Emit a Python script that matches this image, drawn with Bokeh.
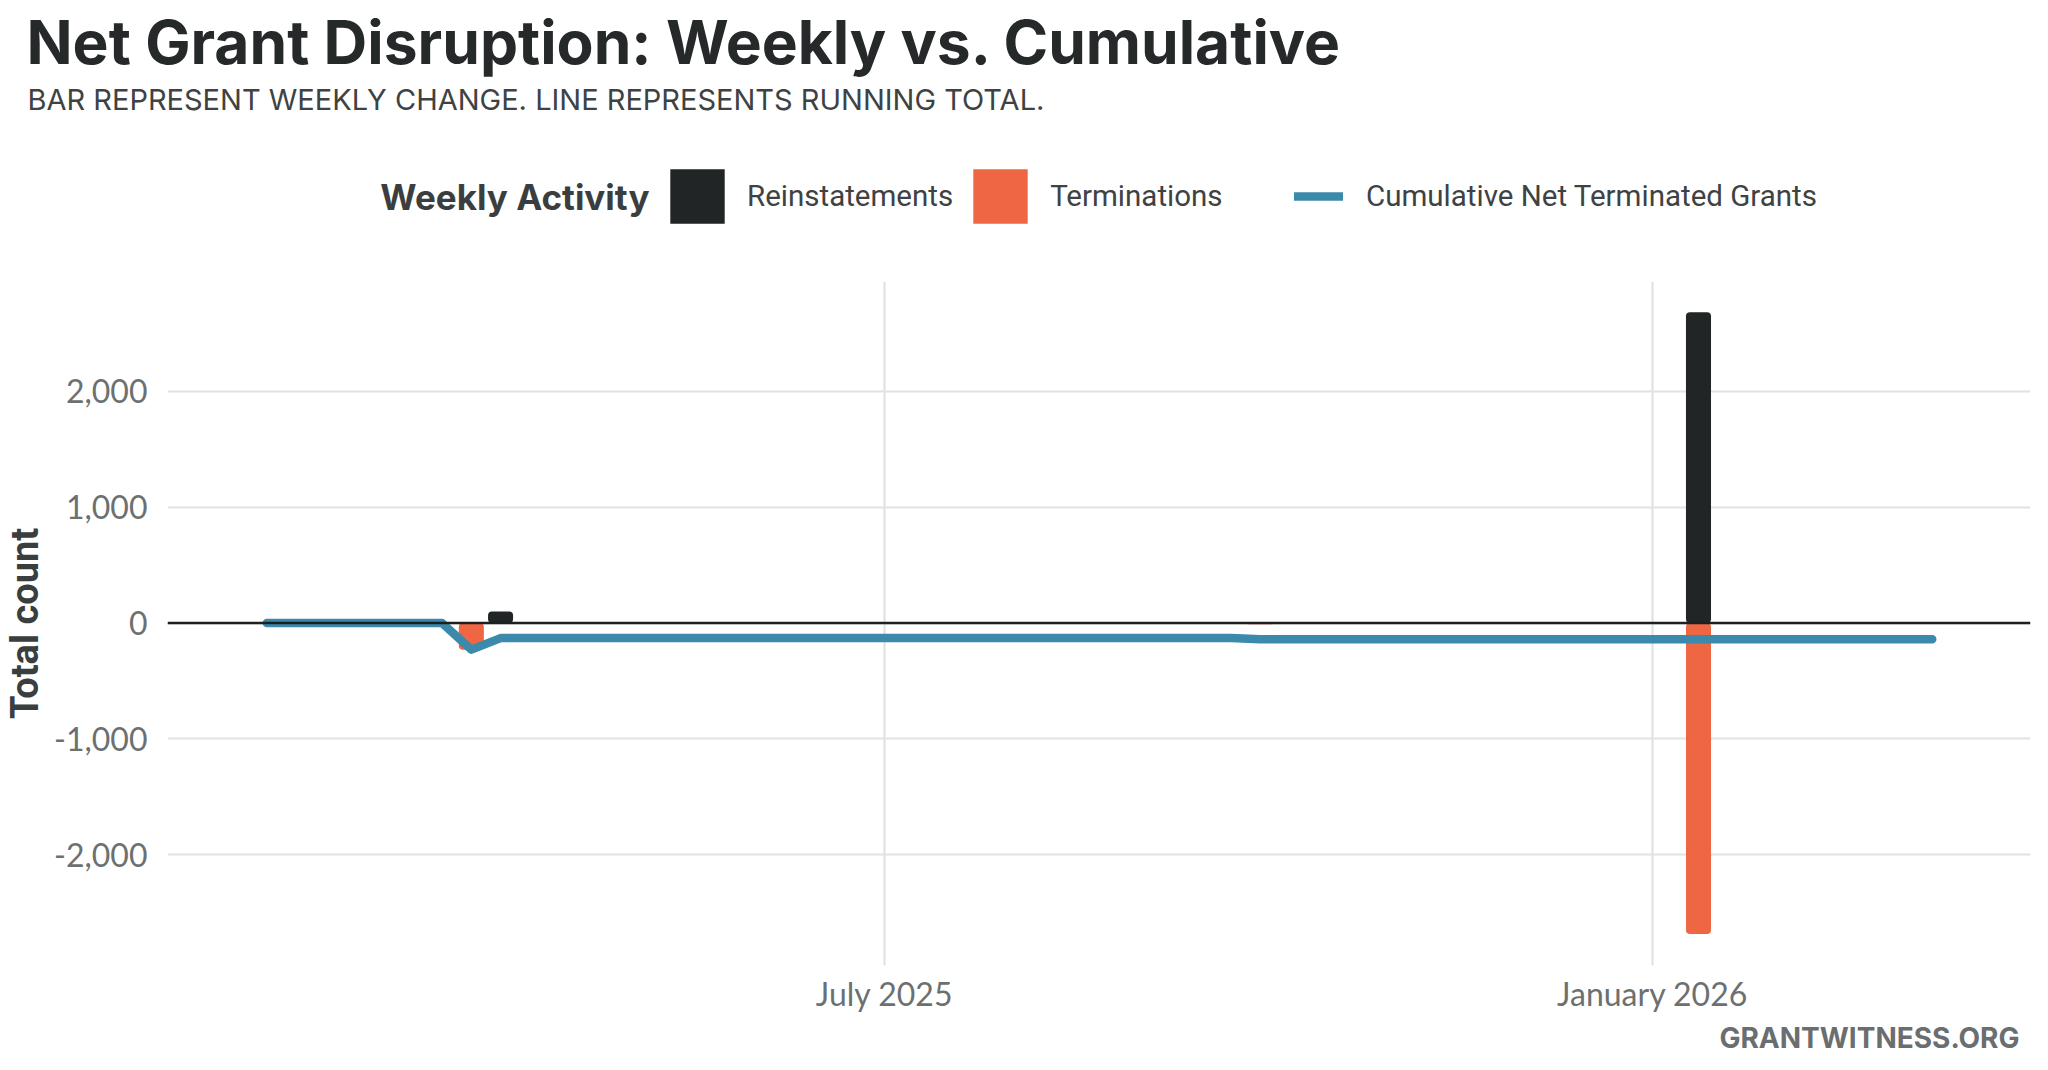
import pandas as pd
from bokeh.plotting import figure
from bokeh.layouts import column
from bokeh.models import (Range1d, FixedTicker, DatetimeTickFormatter, NumeralTickFormatter,
                          Span, Title, Legend, LegendItem, Label)
from bokeh.embed import file_html
from bokeh.resources import INLINE

# ---------------- data ----------------
line_weeks = [
    "2025-02-03", "2025-02-10", "2025-02-17", "2025-02-24", "2025-03-03", "2025-03-10",
    "2025-03-17", "2025-03-24", "2025-03-31", "2025-04-07", "2025-04-14", "2025-04-21",
    "2025-04-28", "2025-05-05", "2025-05-12", "2025-05-19", "2025-05-26", "2025-06-02",
    "2025-06-09", "2025-06-16", "2025-06-23", "2025-06-30", "2025-07-07", "2025-07-14",
    "2025-07-21", "2025-07-28", "2025-08-04", "2025-08-11", "2025-08-18", "2025-08-25",
    "2025-09-01", "2025-09-08", "2025-09-15", "2025-09-22", "2025-09-29", "2025-10-06",
    "2025-10-13", "2025-10-20", "2025-10-27", "2025-11-03", "2025-11-10", "2025-11-17",
    "2025-11-24", "2025-12-01", "2025-12-08", "2025-12-15", "2025-12-22", "2025-12-29",
    "2026-01-05", "2026-01-12", "2026-01-19", "2026-01-26", "2026-02-02", "2026-02-09",
    "2026-02-16", "2026-02-23", "2026-03-02", "2026-03-09",
]
cumulative_net = [
    0, 0, 0, 0, 0, 0,
    0, -230, -130, -130, -130, -130,
    -130, -130, -130, -130, -130, -130,
    -130, -130, -130, -130, -130, -130,
    -130, -130, -130, -130, -130, -130,
    -130, -130, -130, -130, -140, -140,
    -140, -140, -140, -140, -140, -140,
    -140, -140, -140, -140, -140, -140,
    -140, -140, -140, -140, -140, -140,
    -140, -140, -140, -140,
]

bar_weeks = ["2025-03-24", "2025-03-31", "2025-09-29", "2026-01-12"]
reinstatements = [0, 100, 0, 2685]
terminations = [230, 0, 10, 2685]

y_ticks = [-2000, -1000, 0, 1000, 2000]
x_tick_dates = ["2025-07-01", "2026-01-01"]

# ---------------- styling ----------------
C_TITLE = "#26292a"
C_SUB = "#3e4243"
C_TICK = "#6c7071"
C_GRID = "#dfe3e3"
C_BLACK = "#212526"
C_ORANGE = "#ef6642"
C_BLUE = "#3b89ab"
HEAD_FONT = "Inter"
LEG_FONT = "Roboto"
TICK_FONT = "Lato"

lx = pd.to_datetime(line_weeks)
bx = pd.to_datetime(bar_weeks)
neg_terms = [-t for t in terminations]

W = 2048
HEAD_H = 273
MAIN_H = 789


def no_frame_align(fig):
    try:
        fig.frame_align = False
    except Exception:
        pass


# ---------------- header (title, subtitle, legend) ----------------
head = figure(width=W, height=HEAD_H, output_backend="svg", toolbar_location=None,
              x_range=Range1d(0, W), y_range=Range1d(HEAD_H, 0),
              x_axis_location=None, y_axis_location=None,
              min_border=0, min_border_left=0, min_border_right=0,
              min_border_top=0, min_border_bottom=0)
no_frame_align(head)
head.outline_line_color = None
head.grid.visible = False
head.background_fill_color = "white"
head.border_fill_color = "white"


def head_label(text, x, y, size, color, style="normal", align="left", font=HEAD_FONT):
    head.add_layout(Label(x=x, y=y, text=text, text_font=font, text_font_size=size,
                          text_color=color, text_font_style=style, text_align=align,
                          text_baseline="middle"))


head_label("Net Grant Disruption: Weekly vs. Cumulative", 26, 41, "60.5px", C_TITLE, "bold")
head_label("BAR REPRESENT WEEKLY CHANGE. LINE REPRESENTS RUNNING TOTAL.", 27, 99, "29px", C_SUB)
head_label("Weekly Activity", 649, 196, "35px", "#3a3e3f", "bold", "right")

# legend proxies (same data, lying outside the header's visible range)
k_re = head.vbar(x=bx, top=reinstatements, width=1, fill_color=C_BLACK, line_color=None)
k_te = head.vbar(x=bx, top=neg_terms, width=1, fill_color=C_ORANGE, line_color=None)
k_ln = head.line(x=lx, y=cumulative_net, line_width=8.5, line_color=C_BLUE, line_cap="round")

leg_common = dict(orientation="horizontal", padding=0, margin=0,
                  border_line_color=None, background_fill_alpha=0,
                  label_text_font=LEG_FONT, label_text_font_size="29.5px",
                  label_text_color="#3e4243")
leg_a = Legend(items=[LegendItem(label="Reinstatements", renderers=[k_re]),
                      LegendItem(label="Terminations", renderers=[k_te])],
               location=(663, 43), glyph_width=68, glyph_height=68,
               label_standoff=16, spacing=13, **leg_common)
leg_b = Legend(items=[LegendItem(label="Cumulative Net Terminated Grants", renderers=[k_ln])],
               location=(1294, 50), glyph_width=49, glyph_height=54, label_standoff=23,
               **leg_common)
head.add_layout(leg_a)
head.add_layout(leg_b)

# ---------------- main chart ----------------
p = figure(width=W, height=MAIN_H, output_backend="svg", toolbar_location=None,
           x_axis_type="datetime",
           x_range=Range1d(pd.Timestamp("2025-01-10 05:00"), pd.Timestamp("2026-04-01 13:00")),
           y_range=Range1d(-2958, 2950),
           min_border_left=167, min_border_right=18, min_border_top=8, min_border_bottom=97)
no_frame_align(p)
p.outline_line_color = None
p.background_fill_color = "white"
p.border_fill_color = "white"

bar_w = 6 * 24 * 3600 * 1000
r_re = p.vbar(x=bx, top=reinstatements, bottom=0, width=bar_w, fill_color=C_BLACK,
              line_color=None, border_radius=4, legend_label="Reinstatements")
r_te = p.vbar(x=bx, top=0, bottom=neg_terms, width=bar_w, fill_color=C_ORANGE,
              line_color=None, border_radius=4, legend_label="Terminations")
r_ln = p.line(x=lx, y=cumulative_net, line_width=8.5, line_color=C_BLUE,
              line_cap="round", line_join="round", legend_label="Cumulative Net Terminated Grants")
p.legend.visible = False

p.add_layout(Span(location=0, dimension="width", line_color="#1d2021", line_width=2.6))

tick_ms = [pd.Timestamp(d).value // 10**6 for d in x_tick_dates]
p.xaxis.ticker = FixedTicker(ticks=tick_ms)
p.xgrid.ticker = FixedTicker(ticks=tick_ms)
fmt = "%B %Y"
p.xaxis.formatter = DatetimeTickFormatter(milliseconds=fmt, seconds=fmt, minsec=fmt, minutes=fmt,
                                          hourmin=fmt, hours=fmt, days=fmt, months=fmt, years=fmt)
p.yaxis.ticker = FixedTicker(ticks=y_ticks)
p.ygrid.ticker = FixedTicker(ticks=y_ticks)
p.yaxis.formatter = NumeralTickFormatter(format="0,0")

for ax in (p.xaxis, p.yaxis):
    ax.axis_line_color = None
    ax.major_tick_line_color = None
    ax.minor_tick_line_color = None
    ax.major_label_text_font = TICK_FONT
    ax.major_label_text_font_size = "32px"
    ax.major_label_text_color = C_TICK
p.xaxis.major_label_standoff = 2
p.yaxis.major_label_standoff = 14
p.yaxis.axis_label = "Total count"
p.yaxis.axis_label_text_font = LEG_FONT
p.yaxis.axis_label_text_font_style = "bold"
p.yaxis.axis_label_text_font_size = "38px"
p.yaxis.axis_label_text_color = "#3a3e3f"
p.yaxis.axis_label_standoff = 4

for g in (p.xgrid, p.ygrid):
    g.grid_line_color = C_GRID
    g.grid_line_width = 2.2

p.add_layout(Title(text="GRANTWITNESS.ORG", text_font=HEAD_FONT, text_font_size="28px",
                   text_font_style="bold", text_color="#6a6e70", align="right",
                   offset=11, standoff=6), "below")

open("out.html", "w").write(file_html(column(head, p, spacing=0), INLINE))
